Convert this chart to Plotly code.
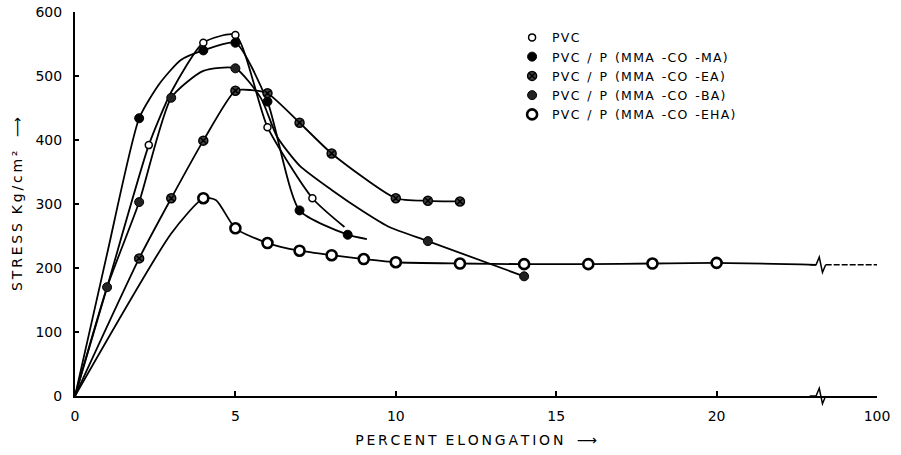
import plotly.graph_objects as go

# ---------------- data ----------------
# PVC
pvc_line_x = [0, 1, 2.3, 3, 4, 5, 6, 7.4, 8.4]
pvc_line_y = [0, 170, 392, 475, 552, 564, 420, 309, 264]
pvc_pts_x = [2.3, 4, 5, 6, 7.4]
pvc_pts_y = [392, 552, 564, 420, 309]

# PVC / P(MMA-CO-MA)
ma_line_x = [0, 1, 2, 2.65, 3.3, 4, 5, 6, 7, 8.5, 9.1]
ma_line_y = [0, 222, 434, 489, 525, 540, 552, 460, 290, 252, 245]
ma_pts_x = [2, 4, 5, 6, 7, 8.5]
ma_pts_y = [434, 540, 552, 460, 290, 252]

# PVC / P(MMA-CO-EA)
ea_line_x = [0, 2, 3, 4, 5, 5.5, 6, 7, 8, 10, 11, 12]
ea_line_y = [0, 215, 309, 399, 477, 478, 473, 427, 379, 309, 305, 304]
ea_pts_x = [2, 3, 4, 5, 6, 7, 8, 10, 11, 12]
ea_pts_y = [215, 309, 399, 477, 473, 427, 379, 309, 305, 304]

# PVC / P(MMA-CO-BA)
ba_line_x = [0, 1, 2, 3, 4, 5, 5.8, 6.3, 7, 8, 9, 9.8, 11, 14]
ba_line_y = [0, 170, 303, 466, 508, 512, 465, 405, 360, 322, 288, 264, 242, 187]
ba_pts_x = [1, 2, 3, 5, 11, 14]
ba_pts_y = [170, 303, 466, 512, 242, 187]

# PVC / P(MMA-CO-EHA)
eha_line_x = [0, 3, 4, 4.4, 5, 6, 7, 8, 9, 10, 12, 14, 16, 18, 20, 23.1]
eha_line_y = [0, 254, 309, 306, 262, 239, 227, 220, 214, 209, 207, 206, 206, 207, 208, 205]
eha_pts_x = [4, 5, 6, 7, 8, 9, 10, 12, 14, 16, 18, 20]
eha_pts_y = [309, 262, 239, 227, 220, 214, 209, 207, 206, 206, 207, 208]
eha_tail_x = [23.4, 25]
eha_tail_y = [205, 205]

legend_names = ["PVC", "PVC / P (MMA -CO -MA)", "PVC / P (MMA -CO -EA)",
                "PVC / P (MMA -CO -BA)", "PVC / P (MMA -CO -EHA)"]
x_tickvals = [0, 5, 10, 15, 20, 25]
x_ticktext = ["0", "5", "10", "15", "20", "100"]
y_tickvals = [0, 100, 200, 300, 400, 500, 600]
x_title = "PERCENT ELONGATION"
y_title = "STRESS Kg/cm\u00B2"
x_break = 23.2
X_MAX = 25
Y_MAX = 600

# ---------------- helpers ----------------
THIN = "\u2009"
HAIR = "\u200A"


def spaced(text, sep):
    """Widen lettering (the reference uses wide stencil-style lettering)."""
    return sep.join(text).replace(sep + " " + sep, "  ")


FONT = "DejaVu Sans"
fig = go.Figure()

series = [
    (pvc_line_x, pvc_line_y, pvc_pts_x, pvc_pts_y,
     dict(symbol="circle", size=7, color="white", line=dict(color="black", width=1.5))),
    (ma_line_x, ma_line_y, ma_pts_x, ma_pts_y,
     dict(symbol="circle", size=9, color="black", line=dict(color="black", width=1))),
    (ea_line_x, ea_line_y, ea_pts_x, ea_pts_y,
     dict(symbol="circle-x", size=9, color="#444444", line=dict(color="black", width=1.5))),
    (ba_line_x, ba_line_y, ba_pts_x, ba_pts_y,
     dict(symbol="circle", size=9, color="#222222", line=dict(color="black", width=1))),
    (eha_line_x, eha_line_y, eha_pts_x, eha_pts_y,
     dict(symbol="circle", size=10, color="white", line=dict(color="black", width=2.6))),
]

for lx, ly, px, py, mk in series:
    fig.add_trace(go.Scatter(x=lx, y=ly, mode="lines",
                             line=dict(color="black", width=1.8, shape="spline", smoothing=0.6),
                             showlegend=False, hoverinfo="skip"))

fig.add_trace(go.Scatter(x=eha_tail_x, y=eha_tail_y, mode="lines",
                         line=dict(color="black", width=1.5, dash="6px,2px"),
                         showlegend=False, hoverinfo="skip"))

for (lx, ly, px, py, mk), name in zip(series, legend_names):
    fig.add_trace(go.Scatter(x=px, y=py, mode="markers", marker=mk,
                             name=spaced(name, HAIR), cliponaxis=False))

# axis-break zigzags (decoration) in paper coordinates
bx = x_break / X_MAX
dx = 0.004


def zig(yc, dy):
    return (f"M {bx-3*dx},{yc} L {bx-dx},{yc} L {bx},{yc+dy} "
            f"L {bx+dx},{yc-dy} L {bx+2*dx},{yc}")


for yc in [0, 205 / Y_MAX]:
    fig.add_shape(type="path", xref="paper", yref="paper", path=zig(yc, 0.02),
                  line=dict(color="black", width=1.5))

fig.update_layout(
    width=901, height=455,
    margin=dict(l=75, r=24, t=12, b=59),
    paper_bgcolor="white", plot_bgcolor="white",
    font=dict(family=FONT, color="black", size=13),
    legend=dict(x=0.545, y=0.972, xanchor="left", yanchor="top",
                font=dict(family=FONT, size=12.5, color="black"), bgcolor="rgba(0,0,0,0)",
                itemwidth=30, tracegroupgap=0),
)
fig.update_xaxes(range=[0, X_MAX], tickvals=x_tickvals, ticktext=x_ticktext, automargin=False,
                 showgrid=False, zeroline=False, showline=True, linecolor="black", linewidth=2,
                 ticks="inside", ticklen=5, tickwidth=1.5, tickcolor="black",
                 tickfont=dict(size=14), ticklabelstandoff=6,
                 title=dict(text=spaced(x_title, THIN) + "   \u27F6",
                            font=dict(size=14, color="black"), standoff=12))
fig.update_yaxes(range=[0, Y_MAX], tickvals=y_tickvals, automargin=False,
                 showgrid=False, zeroline=False, showline=True, linecolor="black", linewidth=2,
                 ticks="inside", ticklen=4, tickwidth=1.5, tickcolor="black",
                 tickfont=dict(size=14), ticklabelstandoff=8,
                 title=dict(text=spaced(y_title, THIN) + "   \u27F6",
                            font=dict(size=14, color="black"), standoff=10))

fig.write_html("out.html")
